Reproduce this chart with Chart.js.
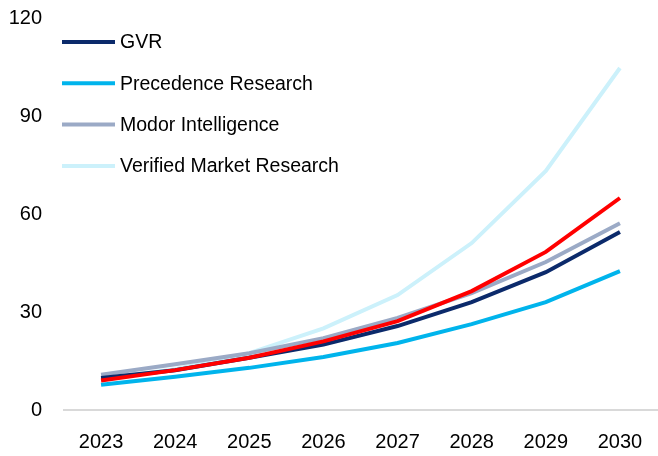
<!DOCTYPE html>
<html>
<head>
<meta charset="utf-8">
<script src="https://cdn.jsdelivr.net/npm/chart.js@4/dist/chart.umd.min.js"></script>
<style>
    html, body { margin: 0; padding: 0; background: #fff; }
    #wrap { width: 658px; height: 456px; }
</style>
</head>
<body>
<div id="wrap"><canvas id="marketChart" width="658" height="456"></canvas></div>
<script>
const years = ['2023', '2024', '2025', '2026', '2027', '2028', '2029', '2030'];
const gvr = [9.8, 12.2, 16.0, 20.0, 25.7, 33.0, 42.2, 54.5];
const precedence = [7.7, 10.2, 12.9, 16.2, 20.5, 26.3, 33.0, 42.5];
const modor = [10.8, 14.0, 17.4, 22.0, 28.2, 35.8, 45.3, 57.2];
const verified = [9.5, 12.5, 17.4, 25.0, 35.2, 51.1, 73.2, 104.7];
const highlight = [9.0, 12.2, 16.0, 21.0, 27.2, 36.4, 48.4, 64.9];
const yMax = 120;
const yStep = 30;

const tickFont = "'Liberation Sans', Arial, sans-serif";
const legendFont = "'Liberation Sans', Arial, sans-serif";

// legend sits inside the plot, top left
const legendItems = [
    { text: 'GVR', color: '#0B2A6B' },
    { text: 'Precedence Research', color: '#00B4EC' },
    { text: 'Modor Intelligence', color: '#9BAAC6' },
    { text: 'Verified Market Research', color: '#CCF1FB' }
];

const insideLegend = {
    id: 'insideLegend',
    afterDraw(chart) {
        const c = chart.ctx;
        c.save();
        c.font = '19.5px ' + legendFont;
        c.textBaseline = 'middle';
        c.fillStyle = '#000';
        legendItems.forEach((item, i) => {
            const y = 42 + i * 41.3;
            c.strokeStyle = item.color;
            c.lineWidth = 4;
            c.beginPath();
            c.moveTo(62, y);
            c.lineTo(115, y);
            c.stroke();
            c.fillText(item.text, 120, y + 1);
        });
        c.restore();
    }
};

function series(data, color) {
    return {
        data: data,
        borderColor: color,
        backgroundColor: color,
        borderWidth: 4,
        pointRadius: 0,
        tension: 0,
        fill: false
    };
}

const ctx = document.getElementById('marketChart').getContext('2d');
new Chart(ctx, {
    type: 'line',
    data: {
        labels: years,
        datasets: [
            series(highlight, '#FF0000'),
            series(gvr, '#0B2A6B'),
            series(modor, '#9BAAC6'),
            series(precedence, '#00B4EC'),
            series(verified, '#CCF1FB')
        ]
    },
    options: {
        responsive: false,
        animation: false,
        layout: { padding: { top: 18, right: 1, left: 0, bottom: 0 } },
        plugins: {
            legend: { display: false },
            tooltip: { enabled: false }
        },
        scales: {
            x: {
                offset: true,
                grid: { display: false, drawTicks: false },
                border: { display: true, color: '#D9D9D9', width: 2 },
                ticks: {
                    color: '#000',
                    font: { family: tickFont, size: 20 },
                    padding: 20,
                    maxRotation: 0
                },
                afterFit(scale) {
                    scale.height = 46;
                    scale.paddingLeft = 0;
                    scale.paddingRight = 0;
                }
            },
            y: {
                min: 0,
                max: yMax,
                grid: { display: false, drawTicks: false },
                border: { display: false },
                ticks: {
                    stepSize: yStep,
                    color: '#000',
                    font: { family: tickFont, size: 20 },
                    padding: 22
                },
                afterFit(scale) {
                    scale.width = 64;
                    scale.paddingTop = 0;
                    scale.paddingBottom = 0;
                }
            }
        }
    },
    plugins: [insideLegend]
});
</script>
</body>
</html>
